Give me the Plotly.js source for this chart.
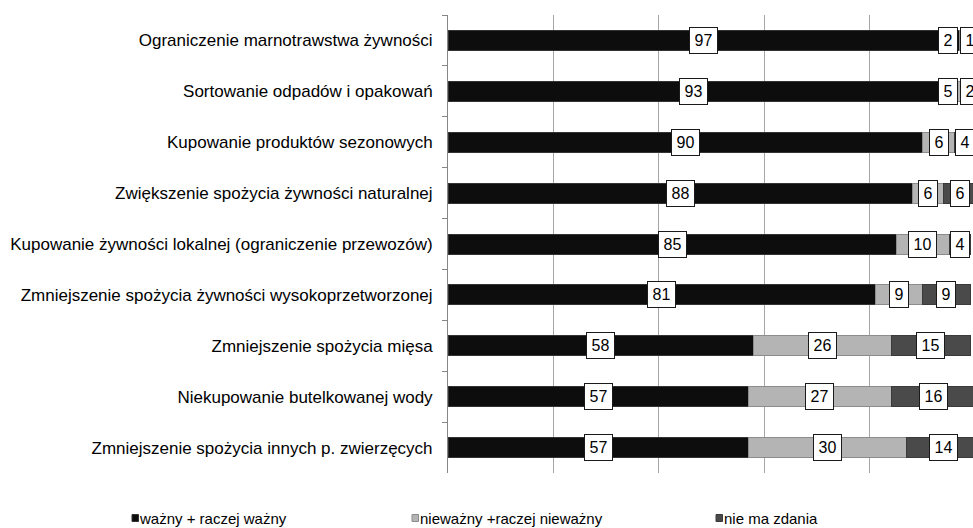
<!DOCTYPE html>
<html><head><meta charset="utf-8">
<script src="https://cdn.plot.ly/plotly-3.0.1.min.js"></script>
<style>html,body{margin:0;padding:0;background:#fff}</style>
</head><body><div id="chart" style="width:973px;height:528px"></div>
<script>
const categories = [
  'Ograniczenie marnotrawstwa żywności',
  'Sortowanie odpadów i opakowań',
  'Kupowanie produktów sezonowych',
  'Zwiększenie spożycia żywności naturalnej',
  'Kupowanie żywności lokalnej (ograniczenie przewozów)',
  'Zmniejszenie spożycia żywności wysokoprzetworzonej',
  'Zmniejszenie spożycia mięsa',
  'Niekupowanie butelkowanej wody',
  'Zmniejszenie spożycia innych p. zwierzęcych'
];
const wazny = [97, 93, 90, 88, 85, 81, 58, 57, 57];
const niewazny = [2, 5, 6, 6, 10, 9, 26, 27, 30];
const nieMaZdania = [1, 2, 4, 6, 4, 9, 15, 16, 14];
const seriesNames = ['ważny + raczej ważny', 'nieważny +raczej nieważny', 'nie ma zdania'];
const xTickValues = [0, 20, 40, 60, 80, 100];

const series = [wazny, niewazny, nieMaZdania];
const colors = ['#0d0d0d', '#b4b4b4', '#4a4a4a'];
const lineColors = ['#333333', '#8c8c8c', '#3a3a3a'];
const FONT = 'Liberation Sans, Arial, sans-serif';

const W = 973, H = 528;
const mL = 448, mR = 0, mT = 15, mB = 55;
const plotW = W - mL - mR, plotH = H - mT - mB;
const xMax = 99.53;
const pxPer = plotW / xMax;

const traces = [];
series.forEach((vals, i) => {
  traces.push({
    type: 'bar', orientation: 'h', name: seriesNames[i],
    y: categories, x: vals,
    marker: {color: colors[i], line: {color: lineColors[i], width: 1}},
    showlegend: false, hoverinfo: 'x+y'
  });
});
const legendIds = ['legend', 'legend2', 'legend3'];
series.forEach((vals, i) => {
  traces.push({
    type: 'scatter', mode: 'markers', name: seriesNames[i],
    x: [null], y: [null],
    marker: {symbol: 'square', size: 7, color: 'rgba(255,255,255,0)', line: {width: 0, color: 'rgba(255,255,255,0)'}},
    legend: legendIds[i], showlegend: true
  });
});

// data labels: centered on each segment, pushed apart when they would overlap
const annotations = [];
const PAD = 4;
function textW(t) { return t.length * 9 + 1; }
function boxW(t) { return textW(t) + 2 * PAD + 2; }
categories.forEach((cat, r) => {
  let cum = 0;
  const items = series.map(vals => {
    const v = vals[r];
    const c = (cum + v / 2) * pxPer;
    cum += v;
    const t = String(v);
    return {t, c, w: boxW(t)};
  });
  const rightLimit = 100 * pxPer + 4.5;
  for (let i = items.length - 1; i >= 0; i--) {
    const lim = (i === items.length - 1) ? rightLimit : items[i + 1].c - items[i + 1].w / 2 - 2;
    if (items[i].c + items[i].w / 2 > lim) items[i].c = lim - items[i].w / 2;
  }
  items.forEach(it => {
    annotations.push({
      x: it.c / pxPer, y: cat, xref: 'x', yref: 'y',
      text: it.t, showarrow: false,
      font: {family: FONT, size: 16, color: '#000'},
      bgcolor: '#ffffff', bordercolor: '#1a1a1a', borderwidth: 1, borderpad: PAD,
      width: textW(it.t), align: 'center'
    });
  });
});

// legend: text positions, with small square keys drawn right before the text
const legendTextPx = [140, 420, 724];
const legendCenterPx = 518;
const px2paperX = px => (px - mL) / plotW;
const px2paperY = py => (H - mB - py) / plotH;
function legendAt(px) {
  return {
    x: px2paperX(px - 40), y: px2paperY(legendCenterPx), xanchor: 'left', yanchor: 'middle',
    orientation: 'h', bgcolor: 'rgba(0,0,0,0)', borderwidth: 0,
    font: {family: FONT, size: 15, color: '#000'}, itemclick: false, itemdoubleclick: false
  };
}
const shapes = legendTextPx.map((px, i) => ({
  type: 'rect', xref: 'paper', yref: 'paper',
  x0: px2paperX(px - 8), x1: px2paperX(px - 1.5),
  y0: px2paperY(legendCenterPx - 3.5), y1: px2paperY(legendCenterPx + 3.5),
  fillcolor: colors[i], line: {color: lineColors[i], width: 1}
}));

const layout = {
  width: W, height: H,
  margin: {l: mL, r: mR, t: mT, b: mB, pad: 0, autoexpand: false},
  paper_bgcolor: '#ffffff', plot_bgcolor: '#ffffff',
  barmode: 'stack', bargap: 0.607,
  showlegend: true,
  legend: legendAt(legendTextPx[0]), legend2: legendAt(legendTextPx[1]), legend3: legendAt(legendTextPx[2]),
  xaxis: {
    range: [0, xMax], tickvals: xTickValues, showticklabels: false,
    showgrid: true, gridcolor: '#a6a6a6', gridwidth: 1,
    zeroline: false, showline: false, ticks: '', fixedrange: true
  },
  yaxis: {
    type: 'category', categoryorder: 'array', categoryarray: categories,
    autorange: 'reversed', automargin: false,
    showline: true, linecolor: '#868686', linewidth: 1,
    ticks: 'outside', ticklen: 5, tickcolor: '#868686', tickwidth: 1,
    tickson: 'boundaries', showgrid: false, zeroline: false,
    ticklabelstandoff: 11,
    tickfont: {family: FONT, size: 17, color: '#000'}, fixedrange: true
  },
  shapes: shapes,
  annotations: annotations
};

Plotly.newPlot('chart', traces, layout, {displayModeBar: false, staticPlot: true});
</script></body></html>
